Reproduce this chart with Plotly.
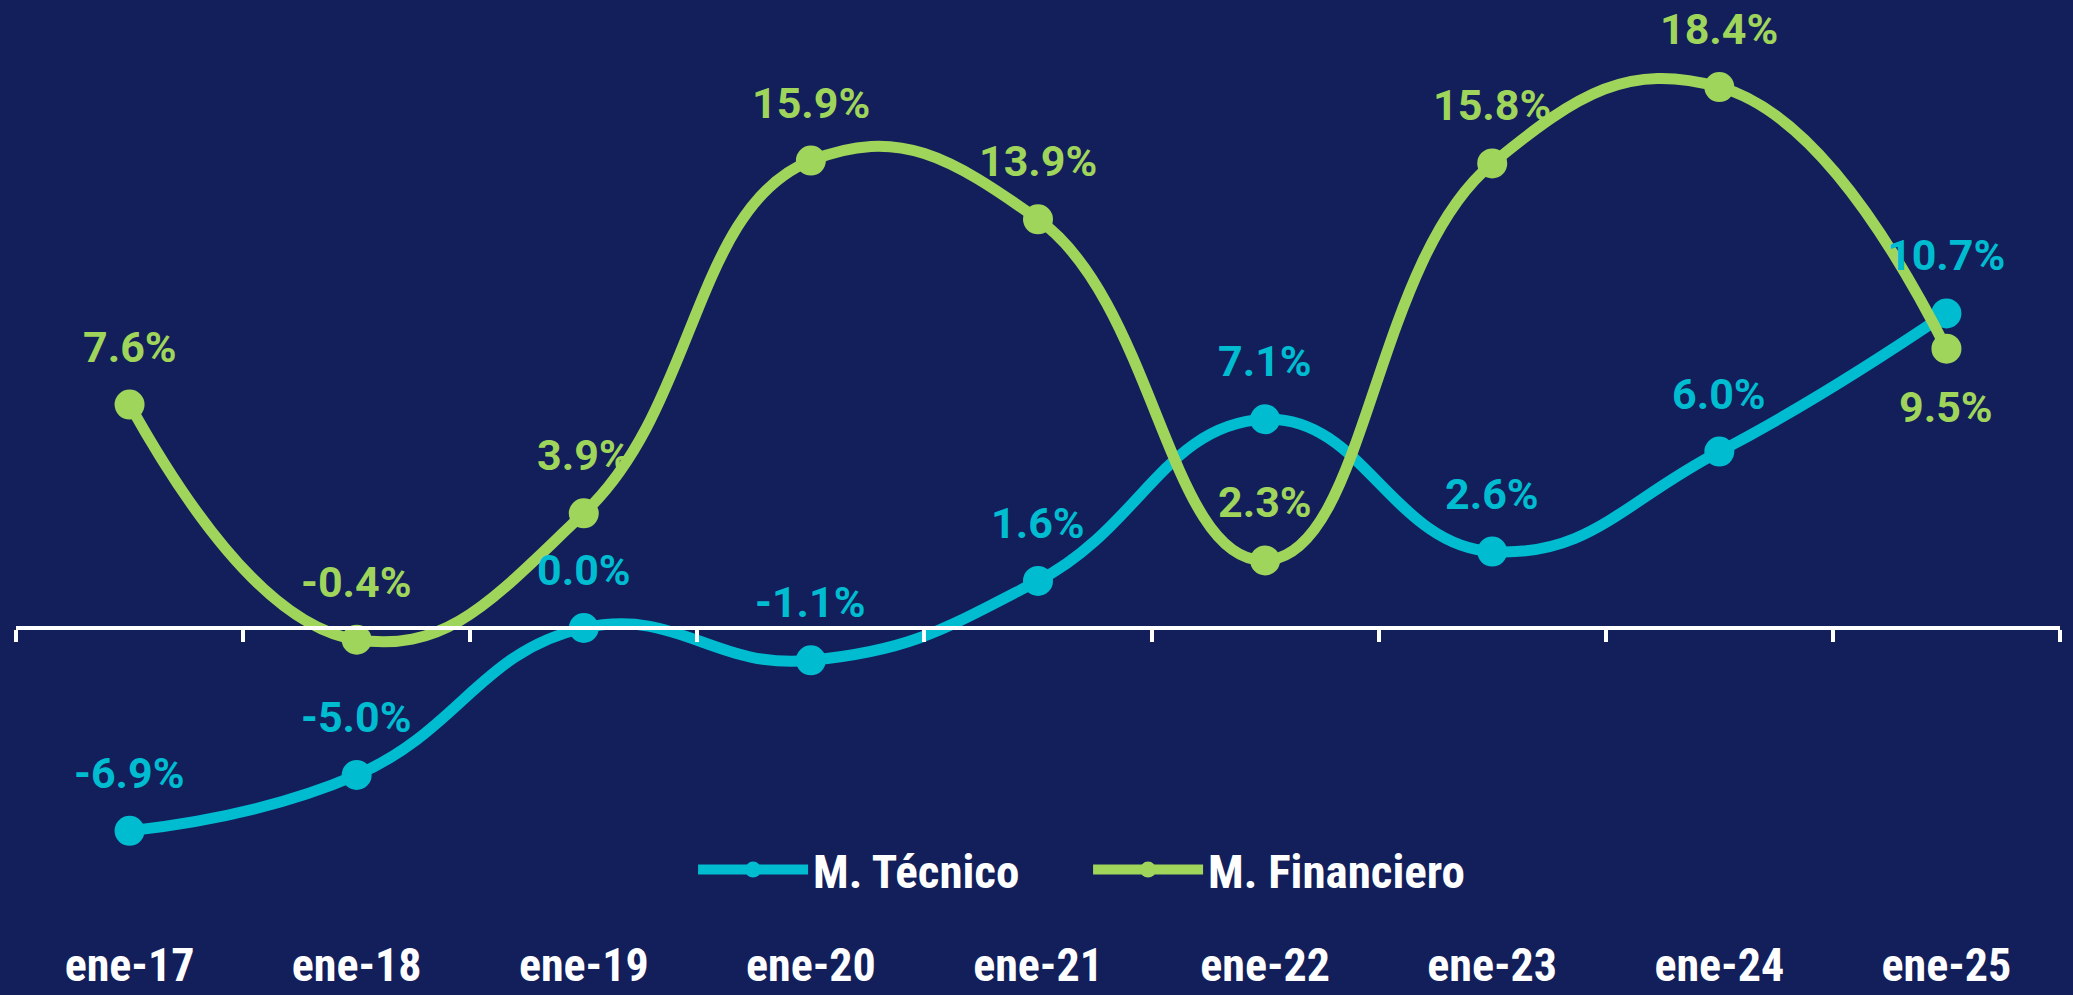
import plotly.graph_objects as go

# Datos
fechas = ["ene-17", "ene-18", "ene-19", "ene-20", "ene-21", "ene-22", "ene-23", "ene-24", "ene-25"]
tecnico = [-6.9, -5.0, 0.0, -1.1, 1.6, 7.1, 2.6, 6.0, 10.7]
financiero = [7.6, -0.4, 3.9, 15.9, 13.9, 2.3, 15.8, 18.4, 9.5]

# posición de etiquetas (1 = arriba, -1 = abajo)
pos_tecnico = [1, 1, 1, 1, 1, 1, 1, 1, 1]
pos_financiero = [1, 1, 1, 1, 1, 1, 1, 1, -1]

fondo = "#121F5B"
cian = "#00BCD0"
verde = "#A0D55B"
fuente_cond = "Liberation Sans Narrow, Roboto Condensed, Roboto, sans-serif"

fig = go.Figure()

for nombre, valores, color in [("M. Técnico", tecnico, cian), ("M. Financiero", financiero, verde)]:
    fig.add_trace(go.Scatter(
        x=fechas, y=valores, name=nombre, mode="lines+markers",
        line=dict(color=color, width=11, shape="spline", smoothing=1.3),
        marker=dict(color=color, size=30),
        cliponaxis=False
    ))

# Etiquetas de datos
for valores, posiciones, color in [(tecnico, pos_tecnico, cian), (financiero, pos_financiero, verde)]:
    for f, v, p in zip(fechas, valores, posiciones):
        fig.add_annotation(
            x=f, y=v, text=f"{v:.1f}%", showarrow=False, yshift=58 * p, borderpad=0,
            font=dict(family="Roboto", size=43, color=color, weight="bold")
        )

escala = 29.4  # px por punto porcentual
cero = 628     # px del eje en y

fig.update_layout(
    width=2073, height=995,
    paper_bgcolor=fondo, plot_bgcolor=fondo,
    margin=dict(l=16, r=13, t=0, b=0, autoexpand=False),
    showlegend=True,
    legend=dict(
        orientation="h", x=0.5245, y=0.1256, xanchor="center", yanchor="middle",
        font=dict(family=fuente_cond, size=47, color="white", weight="bold"),
        itemwidth=110, entrywidth=270, entrywidthmode="pixels",
        bgcolor="rgba(0,0,0,0)"
    ),
    xaxis=dict(
        type="category", range=[-0.5, 8.5], automargin=False,
        anchor="free", position=(995 - cero) / 995,
        showline=True, linecolor="white", linewidth=4,
        ticks="outside", tickson="boundaries", ticklen=12, tickwidth=4, tickcolor="white",
        showgrid=False, zeroline=False,
        ticklabelstandoff=296,
        tickfont=dict(family=fuente_cond, size=46, color="white", weight="bold")
    ),
    yaxis=dict(
        range=[-(995 - cero) / escala, cero / escala], automargin=False,
        showgrid=False, zeroline=False, showticklabels=False, showline=False
    )
)

fig.write_html(
    "out.html",
    config={"displayModeBar": False},
    post_script="document.body.style.margin='0';document.body.style.overflow='hidden';document.body.style.background='#121F5B';"
)
